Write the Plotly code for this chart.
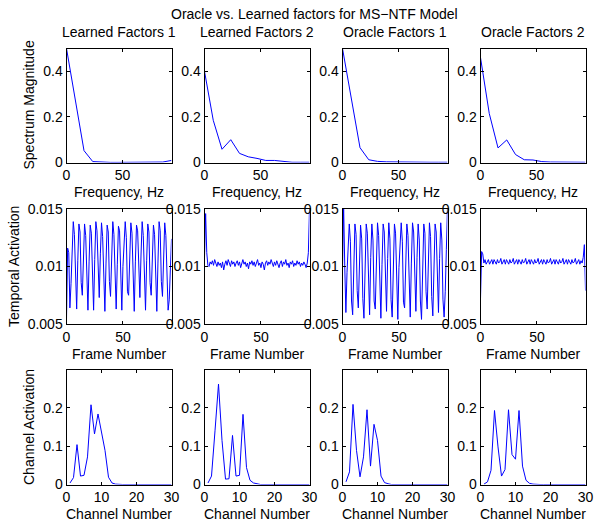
import plotly.graph_objects as go

# ---------------- data ----------------
freq_hz = [0, 7.8125, 15.625, 23.4375, 31.25, 39.0625, 46.875, 54.6875,
           62.5, 70.3125, 78.125, 85.9375, 93.75]

spec_learned1 = [0.5, 0.27, 0.052, 0.004, 0.001, 0.0005, 0.0005, 0.0005,
                 0.0005, 0.0005, 0.001, 0.002, 0.009]
spec_learned2 = [0.40, 0.185, 0.058, 0.10, 0.040, 0.025, 0.018, 0.009,
                 0.009, 0.004, 0.001, 0.001, 0.001]
spec_oracle1 = [0.5, 0.28, 0.065, 0.012, 0.005, 0.003, 0.002, 0.001,
                0.001, 0.001, 0.001, 0.001, 0.001]
spec_oracle2 = [0.46, 0.215, 0.064, 0.099, 0.035, 0.012, 0.011, 0.004,
                0.002, 0.001, 0.001, 0.001, 0.001]

frames = list(range(94))

temp_learned1 = [
    0.0054, 0.0116, 0.0112, 0.0064, 0.0085, 0.0121, 0.0139, 0.0128, 0.0082, 0.0063,
    0.0105, 0.0137, 0.0130, 0.0086, 0.0075, 0.0110, 0.0137, 0.0127, 0.0080, 0.0062,
    0.0104, 0.0136, 0.0129, 0.0085, 0.0062, 0.0106, 0.0139, 0.0131, 0.0088, 0.0073,
    0.0111, 0.0138, 0.0126, 0.0079, 0.0061, 0.0103, 0.0136, 0.0130, 0.0087, 0.0074,
    0.0112, 0.0139, 0.0128, 0.0081, 0.0063, 0.0102, 0.0135, 0.0131, 0.0089, 0.0062,
    0.0100, 0.0128, 0.0139, 0.0125, 0.0078, 0.0075, 0.0113, 0.0138, 0.0129, 0.0084,
    0.0061, 0.0104, 0.0136, 0.0131, 0.0088, 0.0073, 0.0110, 0.0139, 0.0127, 0.0080,
    0.0062, 0.0105, 0.0137, 0.0130, 0.0086, 0.0075, 0.0112, 0.0136, 0.0128, 0.0082,
    0.0061, 0.0103, 0.0139, 0.0131, 0.0087, 0.0074, 0.0111, 0.0138, 0.0127, 0.0081,
    0.0062, 0.0071, 0.0098, 0.0124]

temp_learned2 = [
    0.0108, 0.0146, 0.0112, 0.0101, 0.0100, 0.0104, 0.0102, 0.0105, 0.0101, 0.0106,
    0.0103, 0.0100, 0.0104, 0.0101, 0.0103, 0.0099, 0.0104, 0.0097, 0.0102, 0.0105,
    0.0101, 0.0106, 0.0103, 0.0100, 0.0105, 0.0102, 0.0104, 0.0100, 0.0103, 0.0105,
    0.0101, 0.0104, 0.0099, 0.0103, 0.0106, 0.0102, 0.0104, 0.0100, 0.0103, 0.0098,
    0.0104, 0.0102, 0.0105, 0.0101, 0.0104, 0.0100, 0.0103, 0.0106, 0.0101, 0.0103,
    0.0099, 0.0104, 0.0102, 0.0097, 0.0103, 0.0105, 0.0101, 0.0104, 0.0102, 0.0106,
    0.0103, 0.0100, 0.0104, 0.0101, 0.0105, 0.0102, 0.0099, 0.0103, 0.0105, 0.0100,
    0.0104, 0.0102, 0.0106, 0.0101, 0.0103, 0.0099, 0.0104, 0.0102, 0.0105, 0.0100,
    0.0103, 0.0101, 0.0105, 0.0102, 0.0104, 0.0100, 0.0103, 0.0101, 0.0104, 0.0102,
    0.0099, 0.0103, 0.0112, 0.0150]

temp_oracle1 = [
    0.0098, 0.0152, 0.0100, 0.0060, 0.0095, 0.0125, 0.0137, 0.0122, 0.0070, 0.0058,
    0.0103, 0.0137, 0.0128, 0.0079, 0.0064, 0.0110, 0.0136, 0.0124, 0.0072, 0.0055,
    0.0100, 0.0137, 0.0129, 0.0080, 0.0058, 0.0108, 0.0137, 0.0123, 0.0070, 0.0063,
    0.0109, 0.0138, 0.0127, 0.0076, 0.0055, 0.0102, 0.0137, 0.0130, 0.0081, 0.0061,
    0.0107, 0.0138, 0.0124, 0.0071, 0.0056, 0.0101, 0.0137, 0.0129, 0.0079, 0.0054,
    0.0099, 0.0127, 0.0138, 0.0122, 0.0069, 0.0064, 0.0110, 0.0137, 0.0127, 0.0075,
    0.0056, 0.0103, 0.0138, 0.0130, 0.0080, 0.0061, 0.0108, 0.0137, 0.0123, 0.0070,
    0.0054, 0.0100, 0.0137, 0.0129, 0.0078, 0.0063, 0.0109, 0.0138, 0.0126, 0.0074,
    0.0057, 0.0104, 0.0137, 0.0130, 0.0080, 0.0060, 0.0107, 0.0138, 0.0123, 0.0071,
    0.0056, 0.0078, 0.0115, 0.0152]

temp_oracle2 = [
    0.0072, 0.0113, 0.0111, 0.0103, 0.0106, 0.0102, 0.0104, 0.0106, 0.0102, 0.0105,
    0.0106, 0.0102, 0.0106, 0.0104, 0.0102, 0.0106, 0.0103, 0.0104, 0.0107, 0.0102,
    0.0105, 0.0106, 0.0102, 0.0106, 0.0104, 0.0102, 0.0106, 0.0103, 0.0104, 0.0107,
    0.0102, 0.0105, 0.0106, 0.0102, 0.0106, 0.0104, 0.0102, 0.0106, 0.0103, 0.0104,
    0.0107, 0.0102, 0.0105, 0.0106, 0.0102, 0.0106, 0.0104, 0.0102, 0.0106, 0.0103,
    0.0104, 0.0107, 0.0102, 0.0105, 0.0106, 0.0102, 0.0106, 0.0104, 0.0102, 0.0106,
    0.0103, 0.0104, 0.0107, 0.0102, 0.0105, 0.0106, 0.0102, 0.0106, 0.0104, 0.0102,
    0.0106, 0.0103, 0.0104, 0.0107, 0.0102, 0.0105, 0.0106, 0.0102, 0.0106, 0.0104,
    0.0102, 0.0106, 0.0103, 0.0104, 0.0107, 0.0102, 0.0105, 0.0106, 0.0102, 0.0105,
    0.0103, 0.0108, 0.0119, 0.0079]

channels = list(range(1, 31))

chan_learned1 = [0.004, 0.018, 0.104, 0.022, 0.024, 0.072, 0.208, 0.132, 0.184, 0.141,
                 0.089, 0.019, 0.004, 0.001] + [0.0] * 16
chan_learned2 = [0.004, 0.022, 0.140, 0.262, 0.115, 0.014, 0.015, 0.128, 0.022, 0.024,
                 0.183, 0.044, 0.011, 0.004, 0.002] + [0.0] * 15
chan_oracle1 = [0.007, 0.033, 0.209, 0.089, 0.020, 0.072, 0.195, 0.048, 0.157, 0.115,
                0.022, 0.005, 0.002] + [0.0] * 17
chan_oracle2 = [0.001, 0.007, 0.037, 0.193, 0.098, 0.022, 0.039, 0.195, 0.078, 0.066,
                0.193, 0.048, 0.011, 0.003, 0.001] + [0.0] * 15

col_titles = ["Learned Factors 1", "Learned Factors 2", "Oracle Factors 1", "Oracle Factors 2"]
main_title = "Oracle vs. Learned factors for MS\u2212NTF Model"
x_labels = ["Frequency, Hz", "Frame Number", "Channel Number"]
y_labels = ["Spectrum Magnitude", "Temporal Activation", "Channel Activation"]

# ---------------- layout geometry (pixels) ----------------
W, H = 595, 521
col_px = [(66.5, 171.5), (204.5, 309.5), (342.5, 447.5), (480.5, 585.5)]
row_px = [(48.5, 162.5), (209, 324), (369.5, 484.5)]

FONT = "Liberation Sans"
FS = 14

rows_data = [
    (freq_hz, [spec_learned1, spec_learned2, spec_oracle1, spec_oracle2]),
    (frames, [temp_learned1, temp_learned2, temp_oracle1, temp_oracle2]),
    (channels, [chan_learned1, chan_learned2, chan_oracle1, chan_oracle2]),
]
x_ranges = [[0, 93.75], [0, 93], [0, 30]]
x_ticks = [[0, 50], [0, 50], [0, 10, 20, 30]]
y_ranges = [[0, 0.5], [0.005, 0.015], [0, 0.3]]
y_ticks = [[0, 0.2, 0.4], [0.005, 0.01, 0.015], [0, 0.1, 0.2]]
y_ticktext = [["0", "0.2", "0.4"], ["0.005", "0.01", "0.015"], ["0", "0.1", "0.2"]]

fig = go.Figure()
layout = {}
k = 0
for r in range(3):
    xs, series = rows_data[r]
    for c in range(4):
        k += 1
        sfx = "" if k == 1 else str(k)
        fig.add_trace(go.Scatter(
            x=xs, y=series[c], mode="lines",
            line=dict(color="#0000ff", width=1),
            xaxis="x" + sfx, yaxis="y" + sfx, showlegend=False,
            hoverinfo="skip"))
        x0, x1 = col_px[c]
        y0, y1 = row_px[r]
        common = dict(showline=True, linecolor="black", linewidth=1,
                      mirror="allticks", ticks="inside", ticklen=3,
                      tickcolor="black", tickwidth=1, showgrid=False,
                      zeroline=False, automargin=False,
                      tickfont=dict(family=FONT, size=FS, color="black"))
        layout["xaxis" + sfx] = dict(
            domain=[x0 / W, x1 / W], anchor="y" + sfx,
            range=x_ranges[r], tickvals=x_ticks[r],
            ticktext=[str(v) for v in x_ticks[r]], **common)
        layout["yaxis" + sfx] = dict(
            domain=[1 - y1 / H, 1 - y0 / H], anchor="x" + sfx,
            range=y_ranges[r], tickvals=y_ticks[r],
            ticktext=y_ticktext[r], **common)

annotations = []
def ann(text, xp, yp, angle=0):
    annotations.append(dict(text=text, x=xp / W, y=1 - yp / H, xref="paper",
                            yref="paper", showarrow=False, xanchor="center",
                            yanchor="middle", textangle=angle,
                            font=dict(family=FONT, size=FS, color="black")))

ann(main_title, 314.5, 14.5)
for c in range(4):
    cx = (col_px[c][0] + col_px[c][1]) / 2
    ann(col_titles[c], cx, 32.5)
    for r in range(3):
        ann(x_labels[r], cx, row_px[r][1] + 29.5)

ann(y_labels[0], 29, (row_px[0][0] + row_px[0][1]) / 2, -90)
ann(y_labels[1], 13.5, (row_px[1][0] + row_px[1][1]) / 2, -90)
ann(y_labels[2], 29, (row_px[2][0] + row_px[2][1]) / 2, -90)

fig.update_layout(
    width=W, height=H, margin=dict(l=0, r=0, t=0, b=0),
    paper_bgcolor="white", plot_bgcolor="white",
    annotations=annotations, **layout)

fig.write_html("out.html",
               config={"displayModeBar": False, "staticPlot": True},
               post_script="document.body.style.margin='0px';"
                           "document.body.style.padding='0px';"
                           "document.body.style.overflow='hidden';")
